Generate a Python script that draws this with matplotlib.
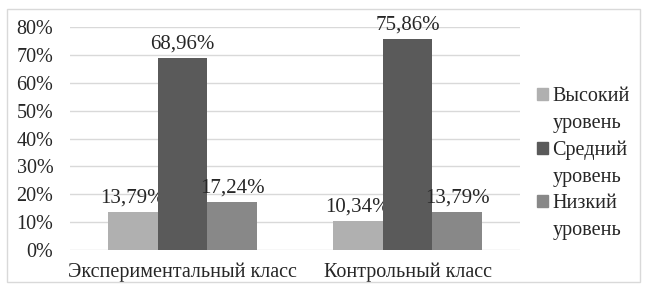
import matplotlib.pyplot as plt
import numpy as np
from matplotlib.patches import Rectangle, Patch

categories = ["Экспериментальный класс", "Контрольный класс"]
series = ["Высокий уровень", "Средний уровень", "Низкий уровень"]
values = [
    [13.79, 10.34],
    [68.96, 75.86],
    [17.24, 13.79],
]
labels = [
    ["13,79%", "10,34%"],
    ["68,96%", "75,86%"],
    ["17,24%", "13,79%"],
]
colors = ["#b0b0b0", "#5a5a5a", "#888888"]

plt.rcParams['font.family'] = ['Liberation Serif', 'DejaVu Serif']

fig = plt.figure(figsize=(6.45, 2.87), dpi=100)
ax = fig.add_axes([70 / 645, 37 / 287, 450 / 645, 223 / 287])

x = np.arange(len(categories))
width = 0.222
for i, vals in enumerate(values):
    pos = x + (i - 1) * width
    ax.bar(pos, vals, width, color=colors[i], zorder=3)
    for p, v, t in zip(pos, vals, labels[i]):
        ax.annotate(t, (p, v), textcoords="offset points", xytext=(0, 3),
                    ha='center', va='bottom', fontsize=15, color='#262626')

ax.set_xlim(-0.5, 1.5)
ax.set_ylim(0, 80)
ax.set_yticks(range(0, 81, 10))
ax.set_yticklabels([f"{t}%" for t in range(0, 81, 10)])
ax.set_xticks(x)
ax.set_xticklabels(categories)
ax.tick_params(axis='both', length=0, labelsize=14.5, colors='#262626')
ax.tick_params(axis='y', pad=12)
ax.tick_params(axis='x', pad=9)
ax.grid(axis='y', color='#d9d9d9', linewidth=1, zorder=0)
for s in ax.spines.values():
    s.set_visible(False)

# legend: square only next to the first word of each entry
handles, texts = [], []
for name, c in zip(series, colors):
    first, second = name.split(" ", 1)
    handles += [Patch(color=c), Patch(color='none')]
    texts += [first, second]
fig.legend(handles, texts, loc='center left', bbox_to_anchor=(519 / 645, 0.43),
           frameon=False, fontsize=14.5, handlelength=0.55, handleheight=0.55,
           handletextpad=0.2, labelspacing=0.38, labelcolor='#262626')

fig.patches.append(Rectangle((7 / 645, 5 / 287), 633 / 645, 273 / 287,
                             transform=fig.transFigure, fill=False,
                             edgecolor='#d9d9d9', linewidth=1))

fig.savefig("out.png", dpi=100)
